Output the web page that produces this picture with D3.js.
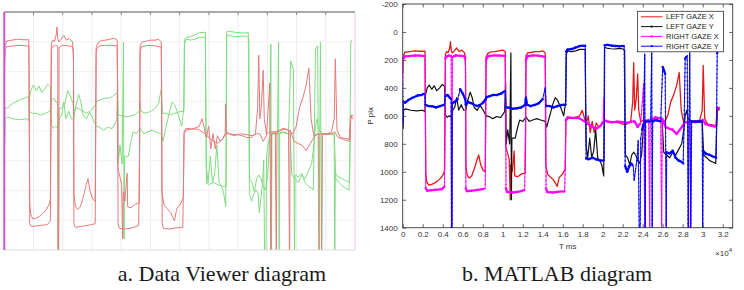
<!DOCTYPE html>
<html><head><meta charset="utf-8">
<script src="https://cdn.jsdelivr.net/npm/d3@7"></script>
<style>body{margin:0;background:#fff}svg{display:block}</style>
</head><body>
<svg id="c" width="744" height="290"></svg>
<script>
// ---- data: [time ms, pixel] ----
const leftGazeX = [[0,300],[60,180],[200,145],[700,140],[1200,135],[1700,138],[2230,138],[2270,600],[2310,1010],[2400,1070],[2600,1095],[2900,1090],[3200,1080],[3500,1065],[3800,1045],[4050,1020],[4180,990],[4230,500],[4270,160],[4400,140],[4550,148],[4700,115],[4780,70],[4850,130],[4950,150],[5150,135],[5400,115],[5650,140],[5900,130],[6200,150],[6280,250],[6320,960],[6450,1025],[6650,1045],[6900,1030],[7200,970],[7450,910],[7600,880],[7800,950],[8050,990],[8250,1000],[8300,500],[8340,180],[8500,155],[8800,142],[9200,140],[9600,135],[10000,130],[10250,140],[10300,820],[10500,870],[10650,910],[10750,1200],[10800,950],[10950,1000],[11150,850],[11200,1030],[11500,1035],[11900,1015],[12250,1010],[12290,700],[12330,170],[12500,150],[12900,145],[13300,140],[13700,140],[14000,135],[14250,150],[14300,950],[14500,1020],[14800,1040],[15100,1060],[15450,1105],[15650,1040],[15950,1020],[16250,980],[16320,640],[16500,620],[16900,615],[17300,610],[17700,600],[17950,560],[18150,610],[18350,660],[18550,600],[18750,720],[18950,640],[19150,720],[19350,650],[19600,680],[19850,665],[20100,640],[20400,640],[20800,650],[21200,645],[21600,650],[22000,660],[22400,660],[22800,640],[23000,500],[23100,220],[23200,560],[23350,480],[23500,300],[23600,560],[23800,640],[24200,630],[24600,630],[25000,625],[25400,615],[25800,620],[26200,640],[26500,600],[26800,500],[27100,450],[27400,380],[27650,290],[27850,560],[28100,650],[28500,640],[28900,640],[29300,640],[29700,630],[29950,560],[30050,240],[30200,620],[30500,660],[31000,665],[31400,670],[31450,550],[31700,560]];

const leftGazeY = [[0,640],[40,690],[90,560],[300,550],[800,560],[1400,565],[2000,560],[2230,570],[2280,450],[2450,400],[2650,380],[2900,410],[3150,385],[3400,420],[3700,400],[3950,375],[4200,390],[4270,590],[4450,610],[4650,600],[4850,610],[5000,560],[5200,540],[5400,470],[5600,560],[5850,520],[6100,560],[6300,560],[6500,490],[6750,430],[6950,470],[7150,540],[7450,560],[7750,525],[8050,560],[8350,600],[8650,605],[9000,620],[9400,605],[9800,612],[10200,570],[10290,360],[10340,800],[10500,700],[10700,800],[10820,150],[10870,1200],[10920,760],[11250,760],[11500,680],[11700,630],[12000,640],[12350,610],[12650,640],[13000,630],[13400,620],[13800,630],[14250,640],[14400,680],[14700,600],[15000,520],[15250,470],[15500,490],[15800,540],[16100,600],[16300,500],[16360,160],[16500,135],[16900,140],[17300,135],[17700,125],[18250,125],[18300,500],[18350,820],[18500,900],[18700,760],[18900,900],[19100,850],[19300,700],[19500,900],[19700,920],[19900,950],[20100,1030],[20180,110],[20400,115],[20800,120],[21200,122],[21600,118],[22000,120],[22200,130],[22260,880],[22500,900],[22700,950],[22900,880],[23100,860],[23300,880],[23500,920],[23700,940],[23900,870],[24100,650],[24400,640],[24800,640],[25200,630],[25600,640],[25950,640],[26100,860],[26400,880],[26700,900],[27000,860],[27300,880],[27600,840],[27900,800],[28100,700],[28250,600],[28400,560],[28550,620],[28900,640],[29300,640],[29700,645],[29950,640],[30100,880],[30400,900],[30700,920],[31000,930],[31300,940],[31450,540],[31600,560]];

const rightGazeX = [[0,380],[40,260],[90,190],[200,175],[700,172],[1300,168],[1900,170],[2230,172],[2270,600],[2310,1120],[2450,1135],[2900,1132],[3400,1128],[3900,1125],[4180,1105],[4230,700],[4270,190],[4400,175],[4650,168],[4850,172],[4880,1400],[4930,1400],[4970,180],[5300,168],[5800,170],[6200,175],[6280,200],[6320,1120],[6450,1140],[6900,1135],[7400,1130],[7900,1125],[8250,1120],[8300,700],[8340,200],[8450,180],[8700,170],[9200,168],[9700,168],[10250,172],[10290,400],[10330,1120],[10450,1145],[11000,1148],[11600,1142],[12200,1130],[12280,700],[12330,200],[12450,175],[13000,168],[13600,170],[14250,178],[14290,400],[14340,1120],[14450,1145],[15000,1148],[15600,1142],[16200,1140],[16270,900],[16320,630],[16500,610],[17000,615],[17600,615],[18200,640],[18600,660],[19000,680],[19400,690],[19800,670],[20050,640],[20100,480],[20150,630],[20500,640],[21000,645],[21500,640],[22000,645],[22500,650],[22900,640],[23200,640],[23500,680],[23800,650],[24100,370],[24200,1400],[24250,640],[24600,630],[24700,1400],[24750,630],[25300,610],[25800,620],[25900,1400],[25950,620],[26300,680],[26600,690],[27000,700],[27400,730],[27800,690],[28200,650],[28550,640],[28600,1400],[28800,1400],[28850,640],[29300,645],[29700,640],[30000,630],[30300,660],[30800,670],[31300,680],[31450,540],[31700,545]];

const rightGazeY = [[0,370],[30,650],[70,500],[250,505],[600,485],[1000,470],[1500,455],[1900,450],[2200,440],[2280,520],[2550,530],[2950,532],[3350,540],[3750,530],[4150,520],[4270,460],[4500,450],[4700,470],[4850,480],[4880,1400],[4930,1400],[4970,510],[5200,500],[5500,480],[5750,410],[6000,440],[6250,480],[6320,520],[6550,500],[6850,510],[7150,520],[7450,530],[7750,520],[8050,505],[8300,480],[8400,465],[8700,460],[9050,450],[9450,450],[9850,440],[10250,420],[10330,540],[10650,542],[11050,550],[11450,545],[11850,540],[12250,520],[12320,470],[12420,520],[12800,530],[13200,522],[13600,510],[14000,480],[14250,400],[14350,530],[14700,530],[15100,540],[15500,530],[15900,522],[16300,520],[16350,140],[16500,125],[16900,122],[17300,112],[17700,100],[18250,98],[18300,600],[18350,905],[18600,910],[19000,900],[19400,912],[19800,920],[20150,920],[20200,95],[20500,92],[20900,98],[21300,100],[21700,102],[22150,100],[22200,500],[22250,960],[22450,1000],[22650,960],[22850,940],[23050,960],[23150,1060],[23300,980],[23450,900],[23550,780],[23650,1400],[23750,1400],[23800,760],[23950,700],[24100,650],[24200,160],[24250,1400],[24300,640],[24800,640],[24900,150],[24950,1400],[25000,640],[25400,630],[25800,640],[26000,250],[26250,300],[26350,1400],[26400,860],[26700,870],[27000,850],[27300,900],[27600,920],[27900,930],[28050,940],[28150,620],[28250,190],[28450,170],[28550,1400],[28700,150],[28800,1400],[28900,640],[29300,640],[29700,640],[29950,640],[30000,1400],[30050,850],[30300,870],[30700,880],[31000,890],[31350,900],[31450,150],[31550,140]];

const seriesNames = ["LEFT GAZE X","LEFT GAZE Y","RIGHT GAZE X","RIGHT GAZE Y"];
const xTicks = d3.range(0, 32001, 2000);
const yTicks = d3.range(-200, 1401, 200);
const xLabel = "T ms";
const yLabel = "P pix";
const captions = ["a. Data Viewer diagram","b. MATLAB diagram"];

const svg = d3.select("#c");

// ================= LEFT PANEL (Data Viewer) =================
const L = {x0:4.3, x1:355, y0:12, y1:250};
const xL = d3.scaleLinear().domain([0,32000]).range([4.3, 356.8]);
const yL = d3.scaleLinear().domain([0,1280]).range([13.9, 253.7]);
const gL = svg.append("g");
const gridX = d3.scaleLinear().domain([0,12]).range([L.x0, L.x1]);
const gridY = d3.scaleLinear().domain([0,8]).range([L.y0, L.y1]);
gL.selectAll("line.gx").data(d3.range(1,12)).join("line")
  .attr("x1", d=>gridX(d)).attr("x2", d=>gridX(d)).attr("y1", L.y0).attr("y2", L.y1)
  .attr("stroke", "#ececec").attr("stroke-width", 1);
gL.selectAll("line.gy").data(d3.range(1,8)).join("line")
  .attr("y1", d=>gridY(d)).attr("y2", d=>gridY(d)).attr("x1", L.x0).attr("x2", L.x1)
  .attr("stroke", "#f2f2f2").attr("stroke-width", 1);
svg.append("clipPath").attr("id","clipL").append("rect")
  .attr("x", L.x0+1).attr("y", L.y0+1).attr("width", L.x1-L.x0-1).attr("height", L.y1-L.y0-1);
const lineL = d3.line().x(d=>xL(d[0])).y(d=>yL(d[1]));
const leftSeries = [
  {d: leftGazeY, c: "#80dc80"}, {d: rightGazeY, c: "#80dc80"},
  {d: leftGazeX, c: "#e47a7b"}, {d: rightGazeX, c: "#e47a7b"}
];
gL.append("g").attr("clip-path","url(#clipL)").selectAll("path").data(leftSeries).join("path")
  .attr("d", s=>lineL(s.d)).attr("fill","none").attr("stroke", s=>s.c).attr("stroke-width", 1)
  .attr("stroke-linejoin","round");
// frame
gL.append("line").attr("x1", L.x0).attr("x2", L.x1).attr("y1", L.y0).attr("y2", L.y0)
  .attr("stroke", "#a9a9a9").attr("stroke-width", 2);
gL.selectAll("line.tk").data(d3.range(1,12)).join("line")
  .attr("x1", d=>gridX(d)).attr("x2", d=>gridX(d)).attr("y1", L.y0).attr("y2", L.y0+3)
  .attr("stroke", "#8a8a8a").attr("stroke-width", 1);
gL.append("line").attr("x1", L.x1).attr("x2", L.x1).attr("y1", L.y0).attr("y2", L.y1)
  .attr("stroke", "#f0cdef").attr("stroke-width", 1.2);
gL.append("line").attr("x1", L.x0).attr("x2", L.x1).attr("y1", L.y1).attr("y2", L.y1)
  .attr("stroke", "#dcdcdc").attr("stroke-width", 1);
gL.append("line").attr("x1", L.x0).attr("x2", L.x0).attr("y1", L.y0).attr("y2", L.y1)
  .attr("stroke", "#d94bd9").attr("stroke-width", 2);

// ================= RIGHT PANEL (MATLAB) =================
const R = {x0:402.7, x1:732.7, y0:4, y1:227.7};
const xR = d3.scaleLinear().domain([0,33000]).range([R.x0, R.x1]);
const yR = d3.scaleLinear().domain([-200,1400]).range([R.y0, R.y1]);
const gR = svg.append("g").style("font-family","Arial, 'Liberation Sans', sans-serif");
svg.append("clipPath").attr("id","clipR").append("rect")
  .attr("x", R.x0).attr("y", R.y0).attr("width", R.x1-R.x0).attr("height", R.y1-R.y0);
const lineR = d3.line().x(d=>xR(d[0])).y(d=>yR(d[1]));
const rightSeries = [
  {d: leftGazeX, c: "#e01b1b", w: 1.3, m: false},
  {d: leftGazeY, c: "#111111", w: 1.2, m: false},
  {d: rightGazeX, c: "#ff00ff", w: 0.9, m: true},
  {d: rightGazeY, c: "#0000ff", w: 0.9, m: true}
];
const plotG = gR.append("g").attr("clip-path","url(#clipR)");
// dot markers placed along each drawn segment: dense on flat parts, sparse on steep jumps
function markerPoints(data) {
  const px = data.map(d => [xR(d[0]), yR(d[1])]);
  const out = [];
  for (let i = 1; i < px.length; i++) {
    const [x0,y0] = px[i-1], [x1,y1] = px[i];
    const dx = x1-x0, dy = y1-y0, len = Math.hypot(dx,dy);
    const steep = Math.abs(dy) > 2.5*Math.abs(dx) && len > 8;
    const step = steep ? 4.2 : 1.8;
    for (let l = 0; l < len; l += step) out.push({x: x0+dx*l/len, y: y0+dy*l/len, r: steep ? 0.75 : 1.25});
  }
  return out;
}
rightSeries.forEach(s => {
  plotG.append("path").attr("d", lineR(s.d)).attr("fill","none")
    .attr("stroke", s.c).attr("stroke-width", s.w).attr("stroke-linejoin","round");
  if (s.m) {
    plotG.append("g").selectAll("circle").data(markerPoints(s.d)).join("circle")
      .attr("cx", d=>d.x).attr("cy", d=>d.y).attr("r", d=>d.r).attr("fill", s.c);
  }
});
// axes
const ax = gR.append("g");
ax.append("g").attr("transform",`translate(0,${R.y1})`)
  .call(d3.axisBottom(xR).tickValues(xTicks).tickSizeInner(-3.5).tickSizeOuter(0).tickPadding(4)
    .tickFormat(d => String(+(d/1e4).toFixed(1))));
ax.append("g").attr("transform",`translate(0,${R.y0})`)
  .call(d3.axisTop(xR).tickValues(xTicks).tickSizeInner(-3.5).tickSizeOuter(0).tickFormat(""));
ax.append("g").attr("transform",`translate(${R.x0},0)`)
  .call(d3.axisLeft(yR).tickValues(yTicks).tickSizeInner(-3.5).tickSizeOuter(0).tickPadding(5)
    .tickFormat(d => String(d)));
ax.append("g").attr("transform",`translate(${R.x1},0)`)
  .call(d3.axisRight(yR).tickValues(yTicks).tickSizeInner(-3.5).tickSizeOuter(0).tickFormat(""));
ax.selectAll(".domain").remove();
ax.selectAll(".tick line").attr("stroke","#444").attr("stroke-width",0.8);
ax.selectAll("text").attr("fill","#333").style("font-size","8px").style("font-family","Arial, 'Liberation Sans', sans-serif");
gR.append("rect").attr("x", R.x0).attr("y", R.y0).attr("width", R.x1-R.x0).attr("height", R.y1-R.y0)
  .attr("fill","none").attr("stroke","#3a3a3a").attr("stroke-width",0.9);
gR.append("text").attr("x", (R.x0+R.x1)/2).attr("y", 248.5).attr("text-anchor","middle")
  .attr("fill","#333").style("font-size","8px").text(xLabel);
const ex = gR.append("text").attr("x", 732).attr("y", 256).attr("text-anchor","end")
  .attr("fill","#333").style("font-size","8px");
ex.append("tspan").text("\u00d710");
ex.append("tspan").attr("dy", -4).style("font-size","6px").text("4");
gR.append("text").attr("transform", `translate(373,${(R.y0+R.y1)/2}) rotate(-90)`)
  .attr("text-anchor","middle").attr("fill","#333").style("font-size","8px").text(yLabel);
// legend
const lg = gR.append("g").attr("transform","translate(637.5,11.3)");
lg.append("rect").attr("width", 86).attr("height", 40.5).attr("fill","#fff")
  .attr("stroke","#333").attr("stroke-width",0.8);
seriesNames.forEach((n,i) => {
  const y = 5.5 + i*9.8;
  const s = rightSeries[i];
  lg.append("line").attr("x1",3.5).attr("x2",25).attr("y1",y).attr("y2",y)
    .attr("stroke", s.c).attr("stroke-width", 1);
  if (i>0) lg.append("circle").attr("cx",14.2).attr("cy",y).attr("r",1.1).attr("fill",s.c);
  lg.append("text").attr("x",28.5).attr("y",y).attr("dy","0.35em").attr("fill","#222")
    .style("font-size","7.5px").text(n);
});

// ================= CAPTIONS =================
svg.selectAll("text.cap").data(captions).join("text").attr("class","cap")
  .attr("x", (d,i)=> i===0 ? 222 : 557).attr("y", 281).attr("text-anchor","middle")
  .attr("fill","#1a1a1a").style("font-family","'Liberation Serif','Times New Roman',serif")
  .style("font-size","22px").text(d=>d);
</script>
</body></html>
